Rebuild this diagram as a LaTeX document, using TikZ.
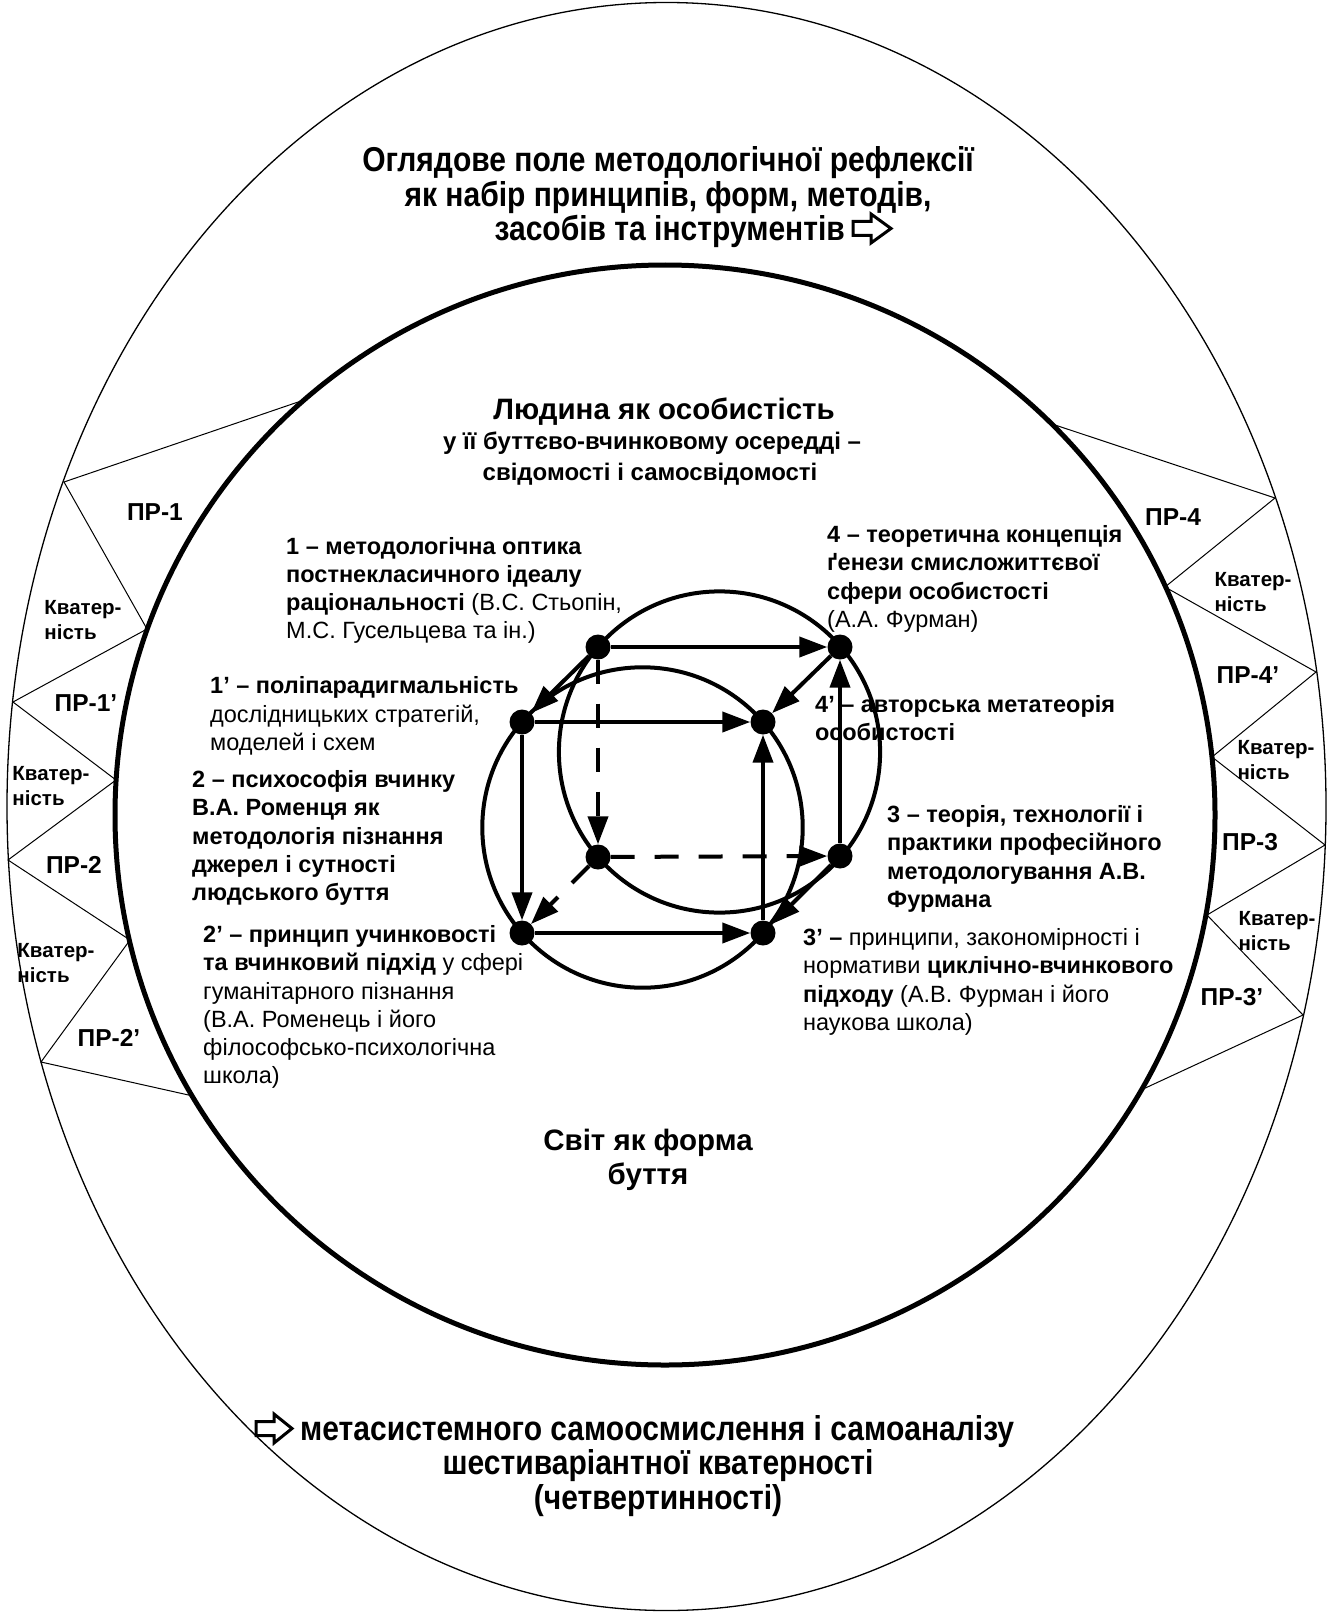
\documentclass[tikz,border=0pt]{standalone}
\usepackage{fontspec}
\setmainfont{Liberation Sans}
\newfontfamily\narrowfont[FakeStretch=0.87]{Liberation Sans}
\usetikzlibrary{arrows.meta}
\begin{document}
\begin{tikzpicture}[x=1pt,y=-1pt,
  thinln/.style={line width=1pt},
  edge/.style={line width=4pt,-{Triangle[length=28pt,width=20pt]}},
  dashedge/.style={edge,dash pattern=on 24pt off 20pt},
  dot/.style={circle,fill=black,inner sep=0pt,minimum size=25pt},
  txt/.style={inner sep=0pt,align=left,anchor=north west,font=\fontsize{23.5}{28.2}\selectfont},
  ttl/.style={inner sep=0pt,anchor=base,font=\narrowfont\bfseries\fontsize{34.5}{38}\selectfont},
  big/.style={inner sep=0pt,anchor=base,font=\bfseries\fontsize{29.5}{34}\selectfont},
  mid/.style={inner sep=0pt,anchor=base,font=\bfseries\fontsize{24}{28}\selectfont},
  pr/.style={inner sep=0pt,font=\bfseries\fontsize{24.5}{28}\selectfont},
  kv/.style={inner sep=0pt,align=left,font=\bfseries\fontsize{20.5}{25}\selectfont},
  harrow/.style={line width=3pt,line join=miter,fill=white}
]
\useasboundingbox (0,0) rectangle (1332,1613);
\fill[white] (0,0) rectangle (1332,1613);

% outer ellipse
\draw[line width=1.3pt] (666.5,806.5) ellipse [x radius=659.5pt, y radius=804pt];

% triangle band points
\coordinate (I0) at (304,400);
\coordinate (O1) at (64,482);
\coordinate (I1) at (147,629);
\coordinate (O2) at (13,702);
\coordinate (I2) at (116,780);
\coordinate (O3) at (8,860);
\coordinate (I3) at (130,940);
\coordinate (O4) at (41,1062);
\coordinate (I4) at (193,1096);
\coordinate (J0) at (1052,424);
\coordinate (P1) at (1275,498);
\coordinate (J1) at (1165,587);
\coordinate (P2) at (1316,672);
\coordinate (J2) at (1212,757);
\coordinate (P3) at (1325,845);
\coordinate (J3) at (1207,915);
\coordinate (P4) at (1303,1015);
\coordinate (J4) at (1141,1090);
\draw[thinln] (I0) -- (O1) -- (I1) -- (O2) -- (I2) -- (O3) -- (I3) -- (O4) -- (I4);
\draw[thinln] (J0) -- (P1) -- (J1) -- (P2) -- (J2) -- (P3) -- (J3) -- (P4) -- (J4);

% inner circle
\draw[line width=5pt] (665,815) circle [radius=550pt];

% band labels
\node[pr] (pr1) at (155,512) {ПР-1};
\node[kv] (kv1) at (83,620) {Кватер-\\ність};
\node[pr] (pr1b) at (86,703) {ПР-1’};
\node[kv] (kv2) at (51,786) {Кватер-\\ність};
\node[pr] (pr2) at (74,865) {ПР-2};
\node[kv] (kv3) at (56,963) {Кватер-\\ність};
\node[pr] (pr2b) at (109,1038) {ПР-2’};
\node[pr] (pr4) at (1173,517) {ПР-4};
\node[kv] (kv4) at (1253,592) {Кватер-\\ність};
\node[pr] (pr4b) at (1248,675) {ПР-4’};
\node[kv] (kv5) at (1276,760) {Кватер-\\ність};
\node[pr] (pr3) at (1250,842) {ПР-3};
\node[kv] (kv6) at (1277,931) {Кватер-\\ність};
\node[pr] (pr3b) at (1232,997) {ПР-3’};

% titles
\node[ttl] (t1) at (668,171.5) {Оглядове поле методологічної рефлексії};
\node[ttl] (t2) at (668,206.5) {як набір принципів, форм, методів,};
\node[ttl,anchor=base east] (t3) at (845,240.5) {засобів та інструментів};
\begin{scope}[shift={(t3.base east)}]
\draw[harrow] (8,-19) -- (26,-19) -- (26,-26.5) -- (46,-12) -- (26,2.5) -- (26,-5) -- (8,-5) -- cycle;
\end{scope}

\node[ttl,anchor=base west] (b1) at (300,1440.5) {метасистемного самоосмислення і самоаналізу};
\node[ttl] (b2) at (658,1474.5) {шестиваріантної кватерності};
\node[ttl] (b3) at (658,1509.5) {(четвертинності)};
\begin{scope}[shift={(b1.base west)}]
\draw[harrow] (-44,-19) -- (-26,-19) -- (-26,-26.5) -- (-8,-12) -- (-26,2.5) -- (-26,-5) -- (-44,-5) -- cycle;
\end{scope}

\node[big] (h1) at (664,419) {Людина як особистість};
\node[mid] (h2) at (652,449) {у її буттєво-вчинковому осередді –};
\node[mid] (h3) at (650,480) {свідомості і самосвідомості};

\node[big] (w1) at (648,1150) {Світ як форма};
\node[big] (w2) at (648,1184) {буття};

% text blocks
\node[txt] (tx1) at (286,532) {\rule{0pt}{22pt}\textbf{1 – методологічна оптика}\\
\textbf{постнекласичного ідеалу}\\
\textbf{раціональності} (В.С. Стьопін,\\
М.С. Гусельцева та ін.)};
\node[txt] (tx1b) at (210,671.7) {\rule{0pt}{22pt}\textbf{1’ – поліпарадигмальність}\\
дослідницьких стратегій,\\
моделей і схем};
\node[txt] (tx2) at (192,765.5) {\rule{0pt}{22pt}\textbf{2 – психософія вчинку}\\
\textbf{В.А. Роменця як}\\
\textbf{методологія пізнання}\\
\textbf{джерел і сутності}\\
\textbf{людського буття}};
\node[txt] (tx2b) at (203,920.5) {\rule{0pt}{22pt}\textbf{2’ – принцип учинковості}\\
\textbf{та вчинковий підхід} у сфері\\
гуманітарного пізнання\\
(В.А. Роменець і його\\
філософсько-психологічна\\
школа)};
\node[txt] (tx4) at (827,520.5) {\rule{0pt}{22pt}\textbf{4 – теоретична концепція}\\
\textbf{ґенези смисложиттєвої}\\
\textbf{сфери особистості}\\
(А.А. Фурман)};
\node[txt] (tx4b) at (815,690.5) {\rule{0pt}{22pt}\textbf{4’ – авторська метатеорія}\\
\textbf{особистості}};
\node[txt] (tx3) at (887,800.5) {\rule{0pt}{22pt}\textbf{3 – теорія, технології і}\\
\textbf{практики професійного}\\
\textbf{методологування А.В.}\\
\textbf{Фурмана}};
\node[txt] (tx3b) at (803,923.5) {\rule{0pt}{22pt}\textbf{3’ –} принципи, закономірності і\\
нормативи \textbf{циклічно-вчинкового}\\
\textbf{підходу} (А.В. Фурман і його\\
наукова школа)};

% cube circles
\draw[line width=4pt] (719.5,752) circle [radius=160.6pt];
\draw[line width=4pt] (642.5,827.5) circle [radius=160.2pt];

% cube vertices
\node[dot] (A) at (598,647) {};
\node[dot] (B) at (840,647) {};
\node[dot] (C) at (522,722) {};
\node[dot] (D) at (763,722) {};
\node[dot] (E) at (598,857) {};
\node[dot] (F) at (840,856) {};
\node[dot] (G) at (522,933) {};
\node[dot] (H) at (763,933) {};

% cube edges
\draw[edge] (A) -- (B);
\draw[edge] (A) -- (C);
\draw[dashedge] (A) -- (E);
\draw[edge] (B) -- (D);
\draw[edge] (F) -- (B);
\draw[edge] (C) -- (D);
\draw[edge] (C) -- (G);
\draw[edge] (H) -- (D);
\draw[edge] (G) -- (H);
\draw[dashedge] (E) -- (F);
\draw[dashedge] (E) -- (G);
\draw[edge] (F) -- (H);
\end{tikzpicture}
\end{document}
